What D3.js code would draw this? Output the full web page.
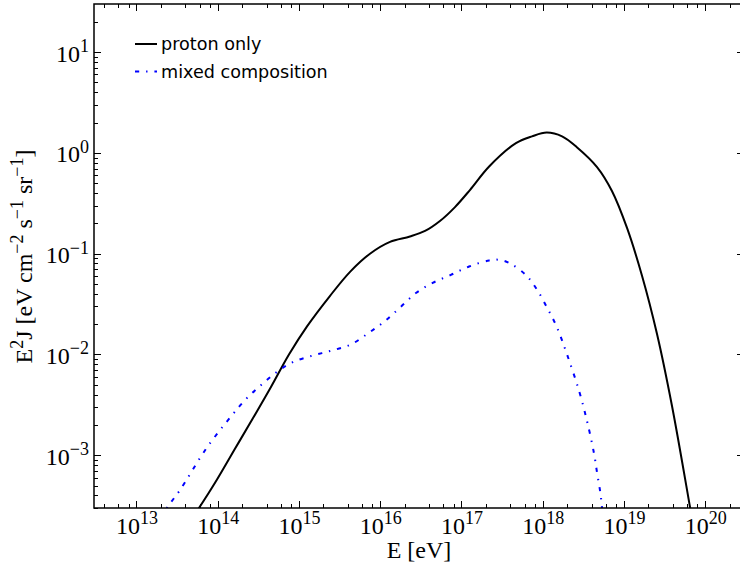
<!DOCTYPE html>
<html>
<head>
<meta charset="utf-8">
<script src="https://cdn.jsdelivr.net/npm/d3@7/dist/d3.min.js"></script>
<style>
  html, body { margin: 0; padding: 0; background: #fff; }
  svg { display: block; }
</style>
</head>
<body>
<svg id="chart" width="740" height="563"></svg>
<script>
// ---- data (E in eV, E^2 J in eV cm^-2 s^-1 sr^-1) ----
const protonE = [5.0e13, 5.87e13, 9.8e13, 1.63e14, 2.72e14, 4.52e14, 7.53e14, 1.25e15,
  2.40e15, 4.25e15, 7.48e15, 1.32e16, 2.32e16, 3.56e16, 5.43e16, 8.32e16, 1.27e17, 2.19e17,
  4.68e17, 7.38e17, 1.12e18, 1.73e18, 2.63e18, 4.66e18, 7.11e18, 1.09e19, 1.67e19, 2.55e19,
  3.90e19, 6.49e19, 8.6e19];
const protonJ = [2.5e-4, 3.0e-4, 5.75e-4, 1.16e-3, 2.34e-3, 4.76e-3, 1.0e-2, 1.89e-2,
  3.8e-2, 6.61e-2, 0.1, 0.131, 0.148, 0.168, 0.211, 0.290, 0.428, 0.733,
  1.25, 1.46, 1.59, 1.46, 1.14, 0.724, 0.419, 0.180, 0.0601, 0.01596,
  3.08e-3, 3.07e-4, 8.2e-5];

const mixedE = [2.0e13, 2.44e13, 3.4e13, 7.24e13, 1.47e14, 2.24e14, 3.27e14, 5.25e14, 8.4e14,
  1.48e15, 2.48e15, 4.37e15, 7.08e15, 1.12e16, 1.72e16, 2.75e16, 4.42e16, 7.41e16, 1.24e17,
  2.19e17, 2.88e17, 3.89e17, 6.17e17, 8.51e17, 1.14e18, 1.48e18, 2.0e18, 2.82e18, 3.53e18,
  4.27e18, 4.68e18, 5.13e18, 5.37e18, 5.6e18];
const mixedJ = [2.4e-4, 3.12e-4, 4.47e-4, 1.17e-3, 2.45e-3, 3.63e-3, 4.82e-3, 6.64e-3, 8.41e-3,
  9.77e-3, 1.09e-2, 1.26e-2, 1.62e-2, 2.12e-2, 2.88e-2, 4.07e-2, 5.13e-2, 6.17e-2, 7.46e-2,
  8.57e-2, 8.71e-2, 8.07e-2, 6.17e-2, 4.39e-2, 2.88e-2, 1.9e-2, 9.9e-3, 4.27e-3, 2.14e-3,
  1.05e-3, 6.6e-4, 4.2e-4, 3.0e-4, 2.0e-4];

const seriesNames = ["proton only", "mixed composition"];
const xTickExponents = [13, 14, 15, 16, 17, 18, 19, 20];
const yTickExponents = [-3, -2, -1, 0, 1];
const xMinorSubs = [2, 4, 6, 8];
const yMinorSubs = [2, 3, 4, 5, 6, 7, 8, 9];
const xDomain = [3e12, 3e20];
const yDomain = [3e-4, 30];

// ---- layout ----
const L = 94, T = 4, R = 744, B = 508;
const svg = d3.select("#chart");
const x = d3.scaleLog().domain(xDomain).range([L, R]);
const y = d3.scaleLog().domain(yDomain).range([B, T]);

svg.append("defs").append("clipPath").attr("id", "clip")
  .append("rect").attr("x", L).attr("y", T).attr("width", R - L).attr("height", B - T);

const serif = "'Liberation Serif', 'Times New Roman', serif";
const sans = "'DejaVu Sans', sans-serif";
const FS = 24, SUP = 18;

// ---- curves ----
const line = d3.line()
  .x(d => x(d[0])).y(d => y(d[1]))
  .curve(d3.curveCatmullRom.alpha(0.5));

const plot = svg.append("g").attr("clip-path", "url(#clip)");
plot.append("path")
  .datum(protonE.map((e, i) => [e, protonJ[i]]))
  .attr("d", line).attr("fill", "none")
  .attr("stroke", "#000").attr("stroke-width", 2);
plot.append("path")
  .datum(mixedE.map((e, i) => [e, mixedJ[i]]))
  .attr("d", line).attr("fill", "none")
  .attr("stroke", "#0000ff").attr("stroke-width", 2)
  .attr("stroke-dasharray", "4.2,6.9,1.4,6.9");

// ---- ticks (all four sides, inward) ----
const tg = svg.append("g").attr("stroke", "#000").attr("stroke-width", 1);
const majX = xTickExponents.map(e => Math.pow(10, e));
const minX = [];
for (let e = 12; e <= 20; e++) xMinorSubs.forEach(s => { const v = s * Math.pow(10, e); if (v > xDomain[0] && v < xDomain[1]) minX.push(v); });
const majY = yTickExponents.map(e => Math.pow(10, e));
const minY = [];
for (let e = -4; e <= 1; e++) yMinorSubs.forEach(s => { const v = s * Math.pow(10, e); if (v > yDomain[0] && v < yDomain[1]) minY.push(v); });

function xt(vals, len) {
  vals.forEach(v => {
    const px = Math.round(x(v)) + 0.5;
    tg.append("line").attr("x1", px).attr("x2", px).attr("y1", B).attr("y2", B - len);
    tg.append("line").attr("x1", px).attr("x2", px).attr("y1", T).attr("y2", T + len);
  });
}
function yt(vals, len) {
  vals.forEach(v => {
    const py = Math.round(y(v)) + 0.5;
    tg.append("line").attr("y1", py).attr("y2", py).attr("x1", L).attr("x2", L + len);
    tg.append("line").attr("y1", py).attr("y2", py).attr("x1", R).attr("x2", R - len);
  });
}
xt(majX, 7); xt(minX, 4);
yt(majY, 7); yt(minY, 4);

// ---- spines ----
svg.append("rect").attr("x", L).attr("y", T).attr("width", R - L).attr("height", B - T)
  .attr("fill", "none").attr("stroke", "#000").attr("stroke-width", 1.5);

// ---- tick labels ----
function supLabel(g, exp) {
  g.append("tspan").text("10");
  g.append("tspan").attr("font-size", SUP).attr("dy", -9.5)
    .text(String(exp).replace("-", "\u2212"));
}
xTickExponents.forEach(e => {
  const t = svg.append("text").attr("x", x(Math.pow(10, e)) + 0.5).attr("y", 533.5)
    .attr("text-anchor", "middle").attr("font-family", serif).attr("font-size", FS).attr("fill", "#000");
  supLabel(t, e);
});
yTickExponents.forEach(e => {
  const t = svg.append("text").attr("x", 89).attr("y", y(Math.pow(10, e)) + 9.5)
    .attr("text-anchor", "end").attr("font-family", serif).attr("font-size", FS).attr("fill", "#000");
  supLabel(t, e);
});

// ---- axis titles ----
svg.append("text").attr("x", (L + R) / 2).attr("y", 558)
  .attr("text-anchor", "middle").attr("font-family", serif).attr("font-size", FS)
  .text("E [eV]");

const yl = svg.append("text").attr("transform", "translate(32,256.5) rotate(-90)")
  .attr("text-anchor", "middle").attr("font-family", serif).attr("font-size", FS);
const parts = [["E", 0], ["2", 1], ["J [eV cm", 0], ["\u22122", 1], [" s", 0], ["\u22121", 1], [" sr", 0], ["\u22121", 1], ["]", 0]];
let raised = false;
parts.forEach(([txt, sup]) => {
  const ts = yl.append("tspan").text(txt);
  if (sup) ts.attr("font-size", SUP);
  if (sup && !raised) { ts.attr("dy", -9.5); raised = true; }
  else if (!sup && raised) { ts.attr("dy", 9.5); raised = false; }
});

// ---- legend ----
const legend = svg.append("g");
const legRows = [
  { name: seriesNames[0], color: "#000", dash: null, y: 44 },
  { name: seriesNames[1], color: "#0000ff", dash: "4.2,6.9,1.4,6.9", y: 71.5 }
];
legRows.forEach(r => {
  legend.append("line").attr("x1", 135).attr("x2", 157).attr("y1", r.y).attr("y2", r.y)
    .attr("stroke", r.color).attr("stroke-width", 2).attr("stroke-dasharray", r.dash);
  legend.append("text").attr("x", 161).attr("y", r.y + 6.3)
    .attr("font-family", sans).attr("font-size", 17.6).attr("fill", "#000").text(r.name);
});
</script>
</body>
</html>
